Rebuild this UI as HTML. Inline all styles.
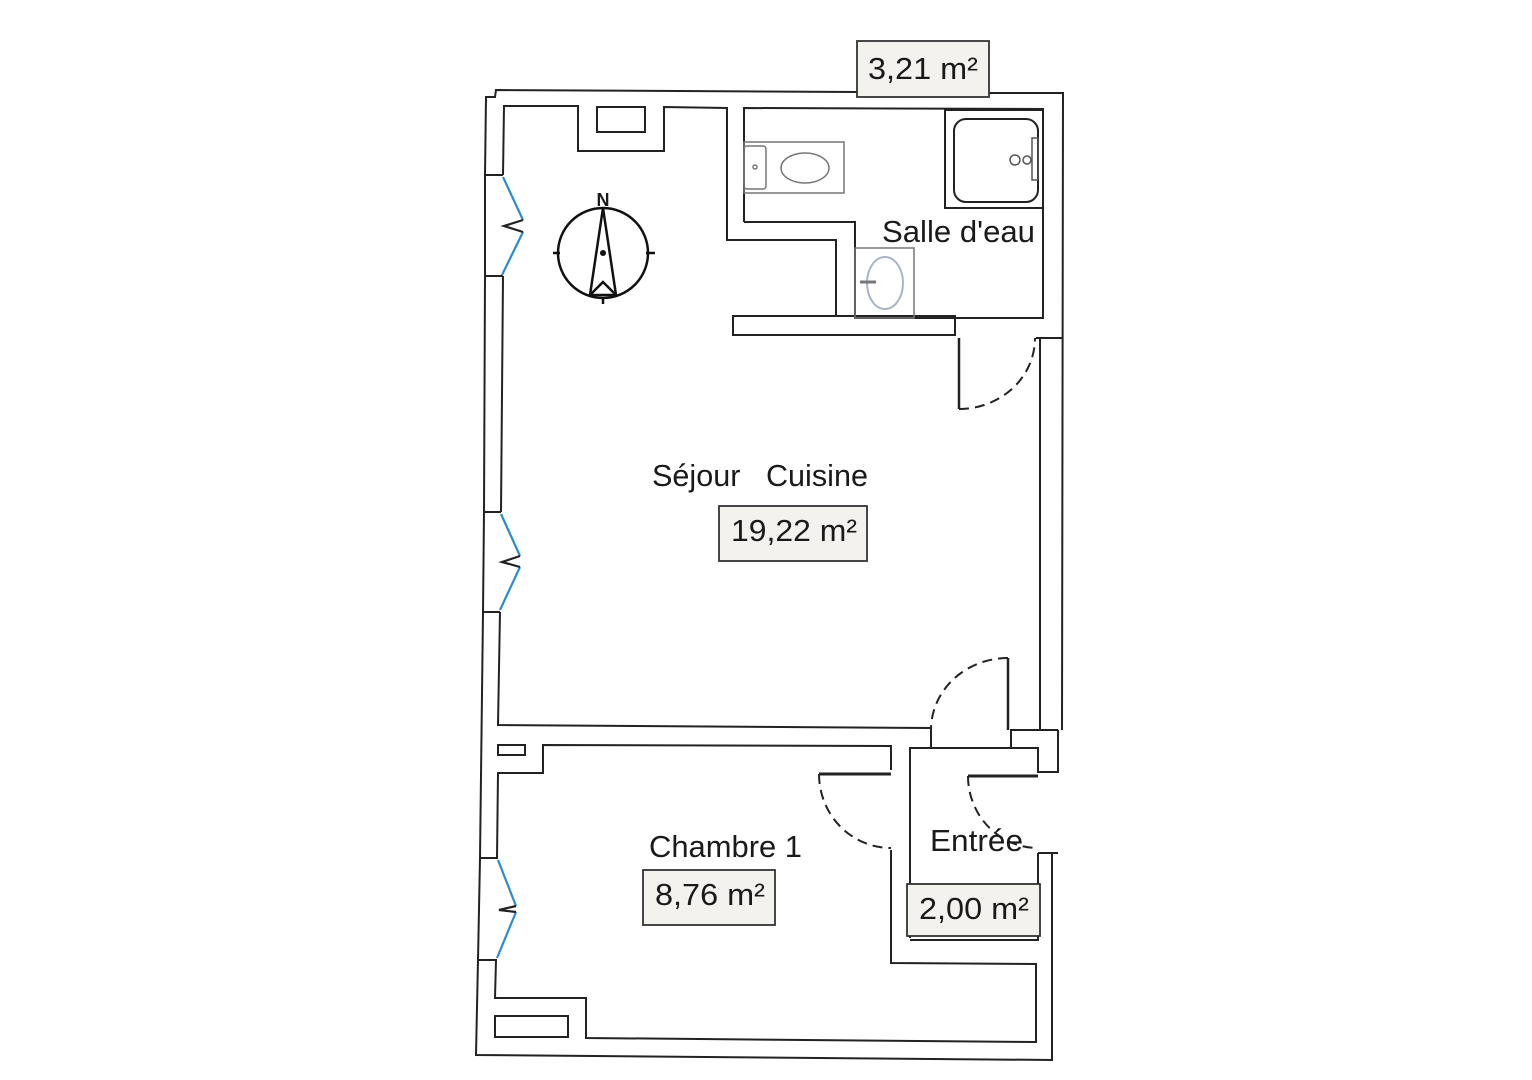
<!DOCTYPE html>
<html><head><meta charset="utf-8"><style>
html,body{margin:0;padding:0;background:#fff;}
svg{display:block;}
text{font-family:"Liberation Sans",sans-serif;fill:#1a1a1a;}
</style></head><body>
<svg width="1532" height="1080" viewBox="0 0 1532 1080" xmlns="http://www.w3.org/2000/svg">
<g fill="none" stroke="#222" stroke-width="2">
<polyline points="857,92 496,90 495,97 486,97 485,175"/>
<polyline points="989,93 1063,93 1062,730"/>
<line x1="485" y1="276" x2="484" y2="512"/>
<line x1="483" y1="612" x2="480" y2="858"/>
<polyline points="478,960 476,1055 1052,1060 1052,853"/>
<line x1="1058" y1="730" x2="1058" y2="773"/>
<line x1="485" y1="175" x2="503" y2="175"/><line x1="485" y1="276" x2="503" y2="276"/>
<line x1="485" y1="175" x2="485" y2="276"/>
<line x1="484" y1="512" x2="501" y2="512"/><line x1="483" y1="612" x2="500" y2="612"/>
<line x1="484" y1="512" x2="483" y2="612"/>
<line x1="480" y1="858" x2="498" y2="858"/><line x1="478" y1="960" x2="497" y2="960"/>
<line x1="480" y1="858" x2="478" y2="960"/>
<polyline points="503,175 504,106 578,106 578,151 664,151 664,107 727,108 727,240 836,240 836,316"/>
<line x1="503" y1="276" x2="501" y2="512"/>
<polyline points="500,612 498,725 931,728 931,748"/>
<rect x="597" y="107" width="48" height="25"/>
<rect x="733" y="316" width="222" height="19"/>
<polyline points="744,222 744,108 1043,109 1043,318 855,318 855,222 744,222"/>
<rect x="945" y="110" width="98" height="98"/>
<rect x="954" y="119" width="84" height="83" rx="12"/>
<line x1="1040" y1="338" x2="1040" y2="730"/>
<polyline points="1036,338 1040,338 1062,338"/>
<line x1="955" y1="335" x2="955" y2="318"/>
<line x1="959" y1="338" x2="959" y2="409" stroke-width="2.5"/>
<path d="M959,409 A76,71 0 0 0 1035,338" stroke-dasharray="10,6"/>
<line x1="1008" y1="658" x2="1008" y2="730" stroke-width="2.5"/>
<path d="M1008,658 A77,72 0 0 0 931,730" stroke-dasharray="10,6"/>
<polyline points="1011,748 1011,730 1040,730 1058,730"/>
<polyline points="497,858 498,773 543,773 543,745 891,746 891,770"/>
<line x1="819" y1="774" x2="891" y2="774" stroke-width="3"/>
<path d="M819,774 A72,74 0 0 0 891,848" stroke-dasharray="10,6"/>
<polyline points="891,850 891,963 1036,964 1036,1042 586,1038 586,998 495,998 496,960"/>
<rect x="498" y="745" width="27" height="10"/>
<rect x="495" y="1016" width="73" height="21"/>
<polyline points="910,938 910,748 1038,748 1038,772 1058,772"/>
<line x1="968" y1="776" x2="1038" y2="776" stroke-width="3"/>
<path d="M968,776 A70,72 0 0 0 1038,848" stroke-dasharray="10,6"/>
<polyline points="1038,853 1038,940 910,940"/>
<line x1="1038" y1="853" x2="1058" y2="853"/>
<g stroke="#777" stroke-width="1.5">
<rect x="744" y="142" width="100" height="51"/>
<rect x="744" y="146" width="22" height="43" rx="3"/>
<ellipse cx="805" cy="168" rx="24" ry="15"/>
<circle cx="755" cy="167" r="2"/>
<rect x="855" y="248" width="59" height="70"/>
</g>
<ellipse cx="885" cy="283" rx="18" ry="26" stroke="#aab4c4" stroke-width="2"/>
<line x1="860" y1="282" x2="876" y2="282" stroke="#777" stroke-width="3"/>
<g stroke="#555" stroke-width="1.5">
<circle cx="1015" cy="160" r="5"/><circle cx="1027" cy="160" r="4"/>
<rect x="1032" y="138" width="6" height="42"/>
</g>
</g>
<g fill="none" stroke-width="2.2">
<polyline points="503,177 523,220" stroke="#2a8ccf"/><polyline points="523,232 502,275" stroke="#2a8ccf"/>
<polyline points="523,220 504,226 523,232" stroke="#222"/>
<polyline points="501,514 520,556" stroke="#2a8ccf"/><polyline points="520,567 500,610" stroke="#2a8ccf"/>
<polyline points="520,556 502,562 520,567" stroke="#222"/>
<polyline points="498,860 516,906" stroke="#2a8ccf"/><polyline points="516,912 497,958" stroke="#2a8ccf"/>
<polyline points="516,906 499,910 516,912" stroke="#222"/>
</g>
<g fill="none" stroke="#111" stroke-width="2.5">
<circle cx="603" cy="253" r="45"/>
<line x1="553" y1="253" x2="560" y2="253"/><line x1="646" y1="253" x2="655" y2="253"/>
<line x1="603" y1="297" x2="603" y2="304"/>
<polygon points="603,208 590,295 616,295"/>
<polyline points="591,294 603,282 615,294"/>
</g>
<circle cx="603" cy="253" r="3" fill="#111"/>
<text x="603" y="206" font-size="18" font-weight="bold" text-anchor="middle">N</text>
<g fill="#f4f2ee" stroke="#333" stroke-width="1.8">
<rect x="857" y="41" width="132" height="56"/>
<rect x="719" y="506" width="148" height="55"/>
<rect x="643" y="870" width="132" height="55"/>
<rect x="907" y="884" width="133" height="52"/>
</g>
<text x="868" y="79" font-size="31" textLength="110" lengthAdjust="spacingAndGlyphs">3,21 m²</text>
<text x="882" y="242" font-size="31" textLength="153" lengthAdjust="spacingAndGlyphs">Salle d'eau</text>
<text x="652" y="486" font-size="31" textLength="216" lengthAdjust="spacingAndGlyphs" xml:space="preserve">Séjour   Cuisine</text>
<text x="731" y="541" font-size="31" textLength="126" lengthAdjust="spacingAndGlyphs">19,22 m²</text>
<text x="649" y="857" font-size="31" textLength="153" lengthAdjust="spacingAndGlyphs">Chambre 1</text>
<text x="655" y="905" font-size="31" textLength="110" lengthAdjust="spacingAndGlyphs">8,76 m²</text>
<text x="930" y="851" font-size="31" textLength="93" lengthAdjust="spacingAndGlyphs">Entrée</text>
<text x="919" y="919" font-size="31" textLength="110" lengthAdjust="spacingAndGlyphs">2,00 m²</text>
</svg>
</body></html>
